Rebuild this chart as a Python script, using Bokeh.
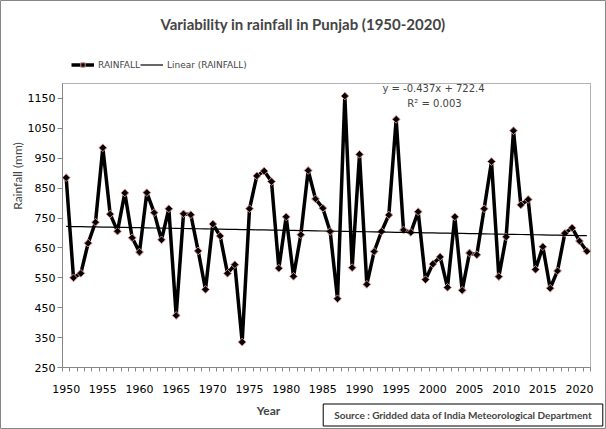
from bokeh.plotting import figure
from bokeh.models import Range1d, FixedTicker, Label, Legend, LegendItem, BoxAnnotation
from bokeh.embed import file_html
from bokeh.resources import INLINE
import numpy as np

# ---------------- data ----------------
years = list(range(1950, 2022))
rainfall = [885, 550, 565, 666, 736, 985, 763, 706, 834, 684,
            636, 835, 768, 677, 781, 424, 764, 761, 640, 511,
            730, 690, 565, 594, 335, 781, 891, 907, 872, 582,
            754, 555, 694, 909, 814, 783, 705, 480, 1158, 584,
            963, 528, 638, 705, 760, 1080, 710, 702, 771, 544,
            596, 620, 518, 754, 508, 633, 627, 781, 939, 554,
            687, 1042, 794, 812, 578, 654, 515, 573, 699, 717,
            673, 639]
x_tick_labels = list(range(1950, 2021, 5))
y_tick_labels = list(range(250, 1151, 100))
y_min, y_max = 250, 1200
trend_slope = -0.437
trend_intercept = 722.4
title_text = "Variability in rainfall in Punjab (1950-2020)"
eq_text = "y = -0.437x + 722.4"
r2_text = "R\u00b2 = 0.003"
source_text = "Source : Gridded data of India Meteorological Department"

trend = [trend_intercept + trend_slope * (i + 1) for i in range(len(years))]

# ---------------- layout (pixels) ----------------
W, H = 606, 429
AL, AR, AT, AB = 62, 590, 83, 367     # plot-area box on the canvas

x0, x1 = years[0] - 0.5, years[-1] + 0.5
ppx = (AR - AL) / (x1 - x0)
ppy = (AB - AT) / (y_max - y_min)
xr = Range1d(x0 - AL / ppx, x1 + (W - AR) / ppx)
yr = Range1d(y_min - (H - AB) / ppy, y_max + AT / ppy)

p = figure(width=W, height=H, output_backend="svg", toolbar_location=None,
           x_range=xr, y_range=yr, min_border=0,
           min_border_left=0, min_border_right=0, min_border_top=0, min_border_bottom=0)
p.xgrid.visible = False
p.ygrid.visible = False
p.outline_line_color = "#868686"
p.outline_line_width = 1
p.background_fill_color = "white"

# plot area border
p.add_layout(BoxAnnotation(left=x0, right=x1, bottom=y_min, top=y_max,
                           fill_alpha=0, line_color="black", line_width=1,
                           level="underlay"))

xa = p.xaxis[0]
xa.fixed_location = y_min
xa.bounds = (x0, x1)
xa.ticker = FixedTicker(ticks=x_tick_labels,
                        minor_ticks=[y - 0.5 for y in years] + [x1])
xa.major_tick_out = 0
xa.major_tick_in = 0
xa.minor_tick_out = 4
xa.minor_tick_in = 0
xa.minor_tick_line_color = "#868686"
xa.axis_line_color = "#868686"
xa.major_label_text_font = "DejaVu Sans"
xa.major_label_text_font_size = "11px"
xa.major_label_text_color = "black"
xa.major_label_standoff = 13

ya = p.yaxis[0]
ya.fixed_location = x0
ya.bounds = (y_min, y_max)
ya.ticker = FixedTicker(ticks=y_tick_labels, minor_ticks=[])
ya.major_tick_out = 5
ya.major_tick_in = 0
ya.major_tick_line_color = "#868686"
ya.axis_line_color = "#868686"
ya.major_label_text_font = "DejaVu Sans"
ya.major_label_text_font_size = "11px"
ya.major_label_text_color = "black"
ya.major_label_standoff = 2

r_line = p.line(years, rainfall, line_color="black", line_width=3.5)
r_mark = p.scatter(years, rainfall, marker="square", angle=np.pi / 4, size=5.5,
                   fill_color="black", line_color="#d98c8c", line_width=1)
r_trend = p.line(years, trend, line_color="black", line_width=1.2)

legend = Legend(items=[LegendItem(label="RAINFALL", renderers=[r_line, r_mark]),
                       LegendItem(label="Linear (RAINFALL)", renderers=[r_trend])],
                orientation="horizontal", location=(71, H - 70),
                glyph_width=23, glyph_height=11, label_standoff=4, spacing=0,
                padding=0, margin=0, border_line_color=None,
                background_fill_alpha=0,
                label_text_font="DejaVu Sans", label_text_font_size="9px",
                label_height=11)
p.add_layout(legend, "center")


def txt(x, y, text, font, size, bold=False, **kw):
    return Label(x=x, y=H - y, x_units="screen", y_units="screen", text=text,
                 text_font=font, text_font_size=size,
                 text_font_style="bold" if bold else "normal",
                 text_align="center", text_baseline="middle", **kw)


p.add_layout(txt(302.5, 23, title_text, "Lato", "15px", bold=True))
p.add_layout(txt(433, 88, eq_text, "DejaVu Sans", "10px"))
p.add_layout(txt(434, 103, r2_text, "DejaVu Sans", "10px"))
p.add_layout(txt(16.5, 175.5, "Rainfall (mm)", "Lato", "12px", angle=np.pi / 2))
p.add_layout(txt(268, 410, "Year", "Lato", "12px", bold=True))
p.add_layout(txt(462.5, 414.5, source_text, "Lato", "10px", bold=True,
                 border_line_color="black", border_line_width=1,
                 background_fill_color="white", padding=(11, 5)))

open("out.html", "w").write(file_html(p, INLINE))
